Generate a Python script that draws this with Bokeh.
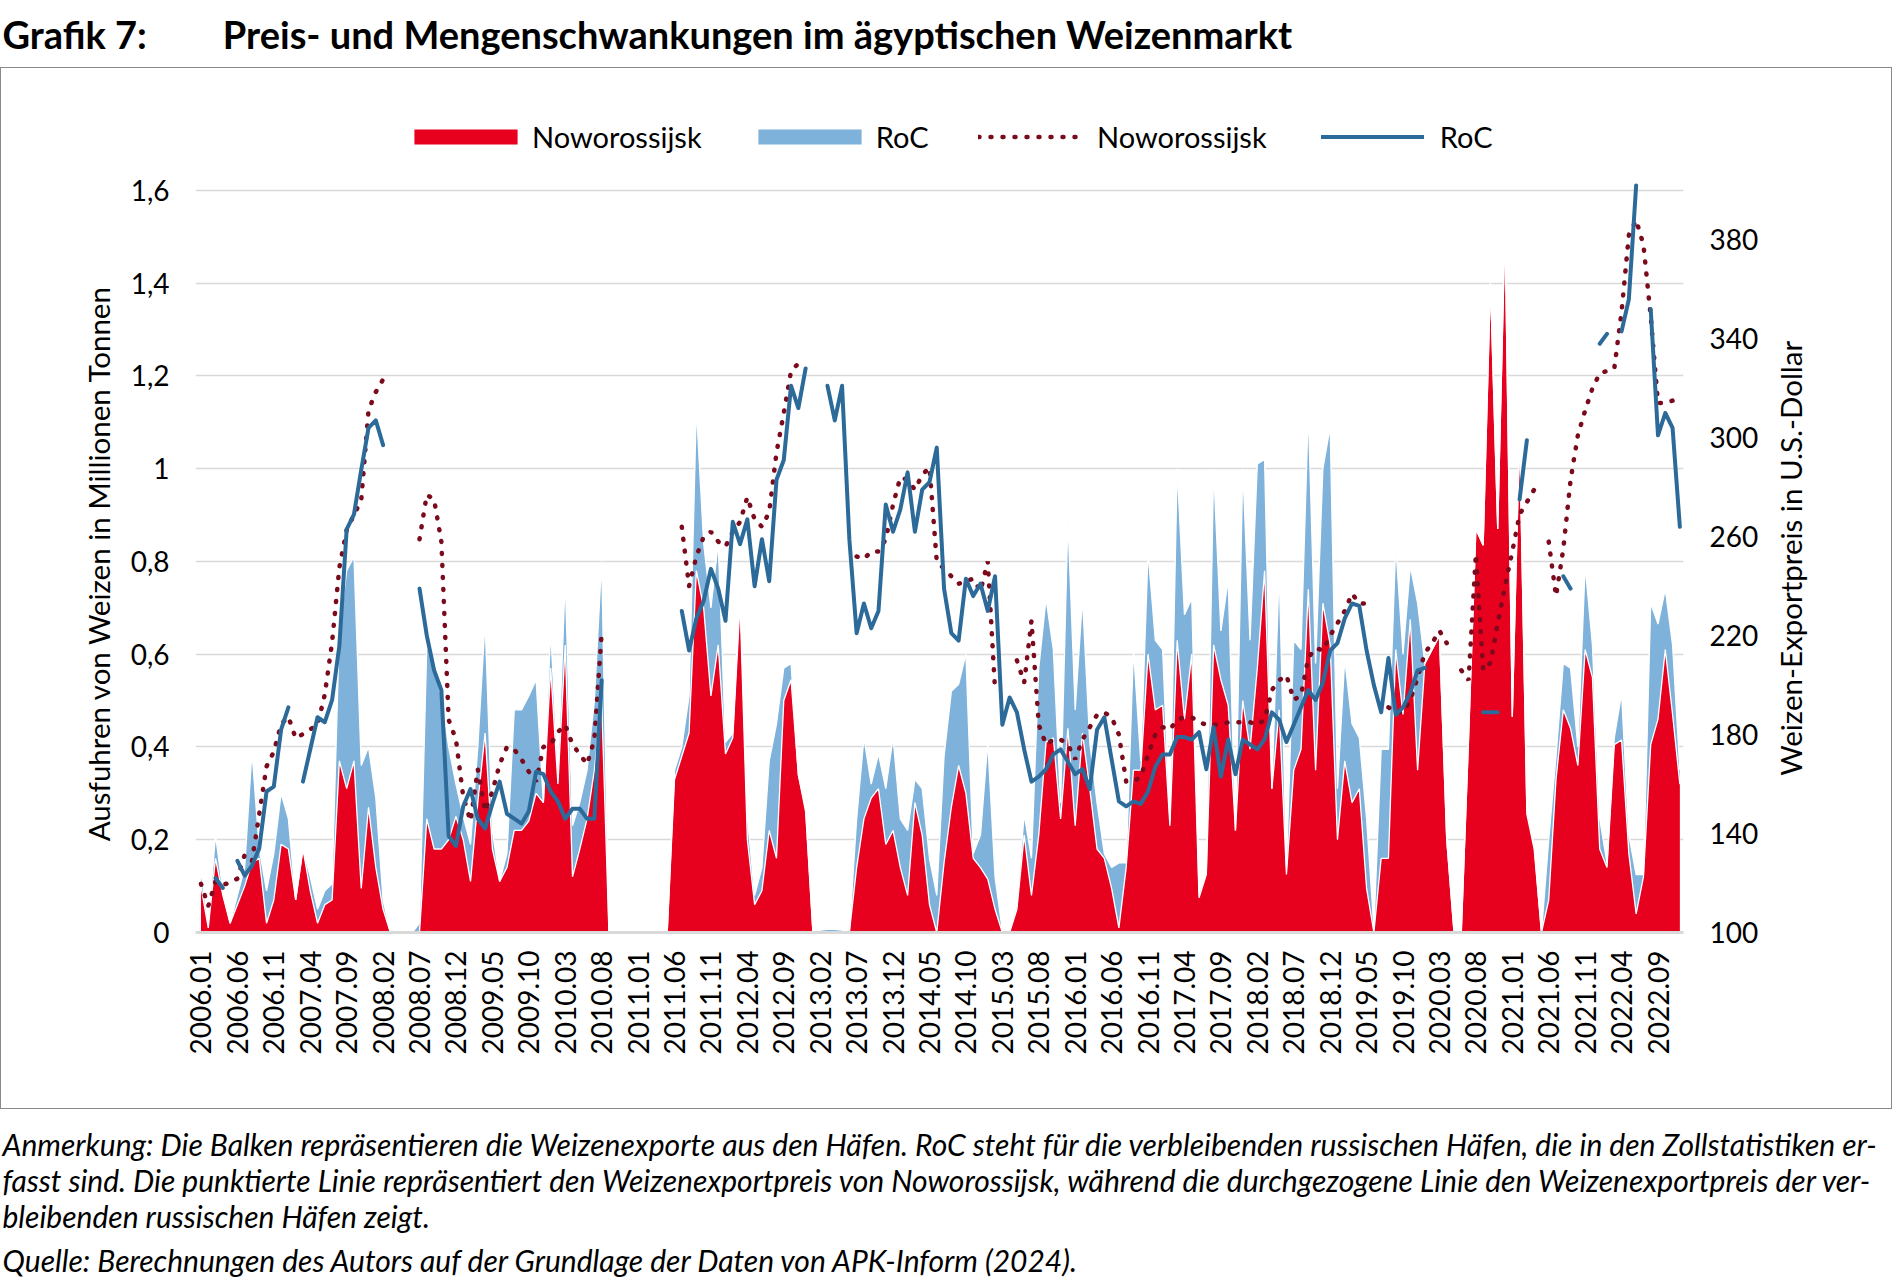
import numpy as np
from bokeh.plotting import figure
from bokeh.models import (Range1d, LinearAxis, FixedTicker, CustomJSTickFormatter,
                          Legend, LegendItem, ColumnDataSource, Title)
from bokeh.embed import file_html
from bokeh.resources import INLINE
from bokeh.core.properties import value
from bokeh.transform import stack

FONT = "Lato"
W, H = 1893, 1285
RED = "#E8001F"
LBLUE = "#7FB2DB"
DBLUE = "#2C6A99"
DOTRED = "#7A0A1C"
BOXC = "#8a8a8a"

# ---------------- data ----------------
months = [f"{y}.{m:02d}" for y in range(2006, 2023) for m in range(1, 13)]
tick_labels = months[::5]

# exports via Noworossijsk (million t), monthly 2006.01-2022.12
now_volume = [
    0.10, 0.01, 0.16, 0.08, 0.02, 0.06, 0.10, 0.15, 0.16, 0.02, 0.07, 0.19,
    0.18, 0.07, 0.18, 0.09, 0.02, 0.06, 0.07, 0.37, 0.31, 0.37, 0.095, 0.27,
    0.14, 0.05, 0, 0, 0, 0, 0, 0.245, 0.18, 0.18, 0.20, 0.25,
    0.20, 0.11, 0.28, 0.43, 0.18, 0.11, 0.14, 0.22, 0.22, 0.24, 0.30, 0.28,
    0.57, 0.32, 0.62, 0.12, 0.18, 0.245, 0.35, 0.50, 0, 0, 0, 0,
    0, 0, 0, 0, 0, 0.33, 0.38, 0.43, 0.78, 0.70, 0.51, 0.62,
    0.385, 0.42, 0.71, 0.20, 0.06, 0.09, 0.22, 0.16, 0.50, 0.545, 0.34, 0.26,
    0, 0, 0, 0, 0, 0, 0.14, 0.245, 0.29, 0.31, 0.19, 0.22,
    0.14, 0.08, 0.28, 0.21, 0.06, 0, 0.15, 0.27, 0.36, 0.30, 0.16, 0.14,
    0.115, 0.05, 0, 0, 0.05, 0.21, 0.08, 0.21, 0.41, 0.42, 0.245, 0.44,
    0.23, 0.43, 0.31, 0.18, 0.16, 0.095, 0.01, 0.14, 0.35, 0.35, 0.60, 0.48,
    0.49, 0.23, 0.63, 0.46, 0.60, 0.075, 0.125, 0.62, 0.545, 0.49, 0.22, 0.50,
    0.395, 0.57, 0.78, 0.31, 0.48, 0.125, 0.35, 0.395, 0.74, 0.35, 0.71, 0.62,
    0.20, 0.37, 0.28, 0.31, 0.095, 0, 0.16, 0.16, 0.61, 0.47, 0.675, 0.35,
    0.58, 0.61, 0.64, 0.20, 0, 0, 0.42, 0.87, 0.835, 1.40, 0.87, 1.52,
    0.465, 1.08, 0.255, 0.18, 0, 0.07, 0.33, 0.48, 0.44, 0.36, 0.61, 0.55,
    0.18, 0.14, 0.405, 0.415, 0.17, 0.04, 0.12, 0.405, 0.46, 0.61, 0.47, 0.32,
]

# exports via remaining Russian ports (RoC, million t)
roc_volume = [
    0.03, 0.01, 0.05, 0.01, 0, 0.02, 0.04, 0.24, 0.02, 0.07, 0.10, 0.11,
    0.065, 0, 0, 0.03, 0.03, 0.03, 0.035, 0.28, 0.47, 0.44, 0.265, 0.13,
    0.15, 0.02, 0, 0, 0, 0, 0.02, 0.375, 0.39, 0.33, 0.20, 0.07,
    0.05, 0.08, 0.12, 0.24, 0.04, 0, 0.03, 0.26, 0.26, 0.27, 0.245, 0,
    0.08, 0.03, 0.14, 0.11, 0.10, 0.105, 0.15, 0.30, 0, 0, 0, 0,
    0, 0, 0, 0, 0, 0.02, 0.02, 0.08, 0.35, 0.14, 0.19, 0.22,
    0.025, 0.01, 0.03, 0.05, 0.02, 0.05, 0.15, 0.29, 0.07, 0.035, 0, 0.01,
    0, 0.005, 0.007, 0.007, 0.005, 0, 0.105, 0.175, 0.03, 0.075, 0.12, 0.20,
    0.105, 0.14, 0.05, 0.10, 0.10, 0.08, 0.23, 0.25, 0.175, 0.30, 0.01, 0.07,
    0.295, 0.07, 0.004, 0.004, 0.01, 0.045, 0.08, 0.36, 0.31, 0.19, 0.035, 0.45,
    0.25, 0.29, 0.10, 0.10, 0.01, 0.045, 0.14, 0.01, 0.26, 0.02, 0.22, 0.15,
    0.12, 0.01, 0.37, 0.225, 0.12, 0.01, 0.005, 0.38, 0.105, 0.27, 0, 0.50,
    0.235, 0.44, 0.24, 0, 0.30, 0.015, 0.28, 0.215, 0.385, 0.23, 0.29, 0.47,
    0.11, 0.22, 0.17, 0.11, 0.15, 0.01, 0.235, 0.235, 0.225, 0.13, 0.115, 0.36,
    0, 0, 0, 0, 0, 0, 0, 0, 0, 0, 0, 0,
    0, 0, 0.01, 0.01, 0, 0.13, 0.05, 0.10, 0.13, 0.04, 0.18, 0.07,
    0.065, 0.01, 0.015, 0.10, 0.04, 0.085, 0.005, 0.305, 0.205, 0.13, 0.15, 0.03,
]

# export price Noworossijsk (USD/t)
now_price = [
    119.7, 110.7, 120.7, 119.3, 120.1, 121.8, 131.4, 128.8, 147.9, 167.1, 173.1, 184.2,
    187.2, 178.5, 180.2, 182.2, 183.8, 196.3, 217.4, 247.6, 262.7, 268.8, 274.8, 311.1,
    318.5, 323.6, None, None, None, None, 259, 277, 275, 258, 186, 178,
    155, 145, 166, 149, 157, 168, 175, 174, 170, 165, 161, 175,
    176, 181, 184, 176, 172, 168, 178, 221, None, None, None, None,
    None, None, None, None, None, None, 264, 240, 252, 260, 262, 258,
    256, 262, 266, 276, 267, 264, 270, 294, 310, 327, 330, None,
    None, None, None, None, None, None, 252, 251, 254, 254, 259, 273,
    284, 283, 279, 285, 288, 250, 247, 244, 241, 242, 243, 238,
    250, 198, None, None, 210, 201, 226, 184, 176, 178, 178, 176,
    170, 178, 183, 188, 189, 187, 180, 161, 161, 163, 172, 180,
    183, 182, 186, 187, 187, 185, 184, 184, 184, 185, 185, 185,
    185, 184, 186, 198, 202, 204, 194, 196, 211, 215, 214, 220,
    225, 230, 237, 233, 233, None, None, 191, 189, 189, 194, 203,
    213, 217, 222, 217, None, 206, 202, 253, 206, 209, 225, 240,
    254, 269, 274, 279, None, 258, 236, 255, 283, 301, 311, 320,
    326, 327, 328, 351, 382, 388, 378, 349, 314, 314, 315, None,
]

# export price remaining Russian ports (USD/t)
roc_price = [
    None, None, 122, 118, None, 129, 123, 127, 134, 157, 159, 182,
    191, None, 161, 174, 187, 185, 194, 216, 263, 269, 287, 304,
    307, 297, None, None, None, None, 239, 220, 206, 198, 139, 135,
    151, 158, 146, 142, 152, 161, 148, 146, 144, 149, 165, 164,
    157, 153, 146, 150, 150, 146, 146, 202, None, None, None, None,
    None, None, None, None, None, None, 230, 214, 227, 234, 247, 239,
    226, 266, 257, 267, 240, 259, 242, 283, 291, 321, 312, 328,
    None, None, 321, 307, 321, 259, 221, 233, 223, 230, 273, 262,
    271, 286, 262, 279, 282, 296, 239, 221, 218, 243, 236, 241,
    230, 244, 184, 195, 189, 174, 161, 163, 166, 172, 174, 169,
    164, 166, 158, 182, 187, 170, 153, 151, 153, 152, 157, 167,
    172, 172, 179, 179, 178, 181, 166, 183, 163, 178, 164, 178,
    176, 174, 178, 189, 186, 177, 184, 191, 198, 194, 201, 214,
    217, 227, 233, 232, 214, 200, 189, 211, 188, 191, 197, 206,
    207, None, None, None, None, None, None, None, 189, 189, 189, None,
    None, 275, 299, None, None, None, None, 244, 239, None, None, None,
    338, 342, None, 343, 356, 402, None, 352, 301, 310, 304, 264,
]

y_ticks = [0, 0.2, 0.4, 0.6, 0.8, 1.0, 1.2, 1.4, 1.6]
price_ticks = [100, 140, 180, 220, 260, 300, 340, 380]

TITLE = "Grafik 7:\u2003\u2003\u2002Preis- und Mengenschwankungen im ägyptischen Weizenmarkt"
NOTES = [
    "Anmerkung: Die Balken repräsentieren die Weizenexporte aus den Häfen. RoC steht für die verbleibenden russischen Häfen, die in den Zollstatistiken er-",
    "fasst sind. Die punktierte Linie repräsentiert den Weizenexportpreis von Noworossijsk, während die durchgezogene Linie den Weizenexportpreis der ver-",
    "bleibenden russischen Häfen zeigt.",
    "Quelle: Berechnungen des Autors auf der Grundlage der Daten von APK-Inform (2024).",
]
Y_LABEL = "Ausfuhren von Weizen in Millionen Tonnen"
Y2_LABEL = "Weizen-Exportpreis in U.S.-Dollar"


def arr(v):
    return np.array([np.nan if a is None else a for a in v], dtype=float)


src = ColumnDataSource(dict(
    x=np.arange(len(months)),
    now=arr(now_volume), roc=arr(roc_volume),
    now_p=arr(now_price), roc_p=arr(roc_price),
))

# ---------------- geometry (page pixels) ----------------
FL, FR = 195, 1683          # frame left / right
FT = 67                      # frame top (= top of the chart box, legend sits inside)
Y16, FB = 189, 932           # pixel rows of 1.6 and 0
X0, X1 = -0.75, 203.5
VOL_TOP = 1.6 * (FB - FT) / (FB - Y16)
PRICE_TOP = 100 + 300 * (FB - FT) / (FB - Y16)
Y2_START = 100 + 300 * (FB - 775) / (FB - Y16)   # where the right title starts (bottom end)

box_css = (
    f"linear-gradient({BOXC},{BOXC}) 0px 67px / 1892px 1px no-repeat, "
    f"linear-gradient({BOXC},{BOXC}) 0px 1108px / 1892px 1px no-repeat, "
    f"linear-gradient({BOXC},{BOXC}) 0px 67px / 1px 1042px no-repeat, "
    f"linear-gradient({BOXC},{BOXC}) 1891px 67px / 1px 1042px no-repeat, #ffffff"
)

p = figure(width=W, height=H, x_range=Range1d(X0, X1), y_range=Range1d(0, VOL_TOP),
           output_backend="svg", toolbar_location=None,
           min_border_left=FL, min_border_right=W - FR, min_border_top=FT, min_border_bottom=H - FB,
           outline_line_color=None, background_fill_color=None, border_fill_color=None,
           styles={"background": box_css})
p.extra_y_ranges = {"price": Range1d(100, PRICE_TOP)}

areas = p.varea_stack(["now", "roc"], x="x", source=src, color=[RED, LBLUE])
p.line(x="x", y=stack("now", "roc"), source=src, line_color="white", line_width=1.3)
p.line(x="x", y=stack("now"), source=src, line_color="white", line_width=1.3)

r_now = p.line(x="x", y="now_p", source=src, y_range_name="price", line_color=DOTRED,
               line_width=4.5, line_dash="1 11", line_cap="round")
r_roc = p.line(x="x", y="roc_p", source=src, y_range_name="price", line_color=DBLUE,
               line_width=4, line_cap="round", line_join="round")

# ---------------- axes ----------------
xa = p.xaxis[0]
xa.ticker = FixedTicker(ticks=list(range(0, len(months), 5)))
xa.formatter = CustomJSTickFormatter(args=dict(labels=tick_labels),
                                     code="const k = Math.round(tick / 5); return (k >= 0 && k < labels.length) ? labels[k] : '';")
xa.major_label_orientation = np.pi / 2
xa.axis_line_color = "#D9D9D9"
xa.axis_line_width = 3
xa.major_label_standoff = 18

ya = p.yaxis[0]
ya.ticker = FixedTicker(ticks=y_ticks)
ya.formatter = CustomJSTickFormatter(code="return (Math.round(tick * 10) / 10).toString().replace('.', ',');")
ya.axis_line_color = None
ya.major_label_standoff = 26
# trailing em spaces shift the centred label down to the 0-1.6 span
ya.axis_label = Y_LABEL + "\u2003" * 5 + "\u2002"
ya.axis_label_standoff = 12

ra = LinearAxis(y_range_name="price", ticker=FixedTicker(ticks=price_ticks))
ra.axis_line_color = None
ra.major_label_standoff = 26
p.add_layout(ra, "right")

# right-hand axis title, drawn as the single (rotated) label of an outer axis
ra2 = LinearAxis(y_range_name="price", ticker=FixedTicker(ticks=[Y2_START]),
                 formatter=CustomJSTickFormatter(args=dict(t=Y2_LABEL), code="return t;"))
ra2.axis_line_color = None
ra2.major_label_orientation = np.pi / 2
ra2.major_label_standoff = 29
p.add_layout(ra2, "right")

for ax in (xa, ya, ra, ra2):
    ax.major_tick_line_color = None
    ax.minor_tick_line_color = None
    ax.major_tick_out = 0
    ax.major_tick_in = 0
    ax.minor_tick_out = 0
    ax.minor_tick_in = 0
    ax.major_label_text_font = FONT
    ax.major_label_text_font_size = "28px"
    ax.major_label_text_color = "#000000"
    ax.axis_label_text_font = FONT
    ax.axis_label_text_font_style = "normal"
    ax.axis_label_text_font_size = "29.5px"
    ax.axis_label_text_color = "#000000"
ra2.major_label_text_font_size = "29.5px"

p.xgrid.visible = False
p.ygrid.ticker = FixedTicker(ticks=y_ticks)
p.ygrid.grid_line_color = "#D9D9D9"
p.ygrid.grid_line_width = 1.5

# ---------------- legends (inside the extended frame, above the 1.6 line) ----------------
LEG_Y = FB - 154
common = dict(orientation="horizontal", label_text_font=FONT, label_text_font_size="29px",
              label_text_color="#000000", padding=0, margin=0, label_height=30,
              border_line_color=None, background_fill_alpha=0)
leg_a = Legend(items=[
    LegendItem(label=value("Noworossijsk"), renderers=[areas[0]]),
    LegendItem(label=value("RoC"), renderers=[areas[1]]),
], location=(401 - FL, LEG_Y), glyph_width=129, glyph_height=19, label_standoff=2,
    spacing=43, **common)
leg_b = Legend(items=[
    LegendItem(label=value("Noworossijsk"), renderers=[r_now]),
    LegendItem(label=value("RoC"), renderers=[r_roc]),
], location=(978 - FL, LEG_Y), glyph_width=103, glyph_height=15, label_standoff=16,
    spacing=54, **common)
p.add_layout(leg_a)
p.add_layout(leg_b)

# ---------------- title (above) and notes (below) ----------------
p.add_layout(Title(text=TITLE, align="left", offset=2 - FL, vertical_align="top",
                   standoff=20, text_font=FONT, text_font_style="bold",
                   text_font_size="38px", text_color="#000000"), "above")


def note_title(txt, size, standoff, style="italic"):
    kw = dict(text=txt, align="left", offset=2 - FL, vertical_align="middle",
              text_font=FONT, text_font_style=style, text_font_size=size, text_color="#000000")
    try:
        return Title(standoff=standoff, **kw)
    except Exception:
        return Title(standoff=max(standoff, 0), **kw)


below_items = [
    note_title(" ", "30px", 30, "normal"),        # gap under the x tick labels
    note_title(NOTES[0], "30px", -2),
    note_title(NOTES[1], "30px", -2),
    note_title(NOTES[2], "30px", -2),
    note_title(" ", "5px", 0, "normal"),          # small gap before the source line
    note_title(NOTES[3], "30px", -2),
]
for t in below_items:
    p.add_layout(t, "below")

open("out.html", "w").write(file_html(p, INLINE))
